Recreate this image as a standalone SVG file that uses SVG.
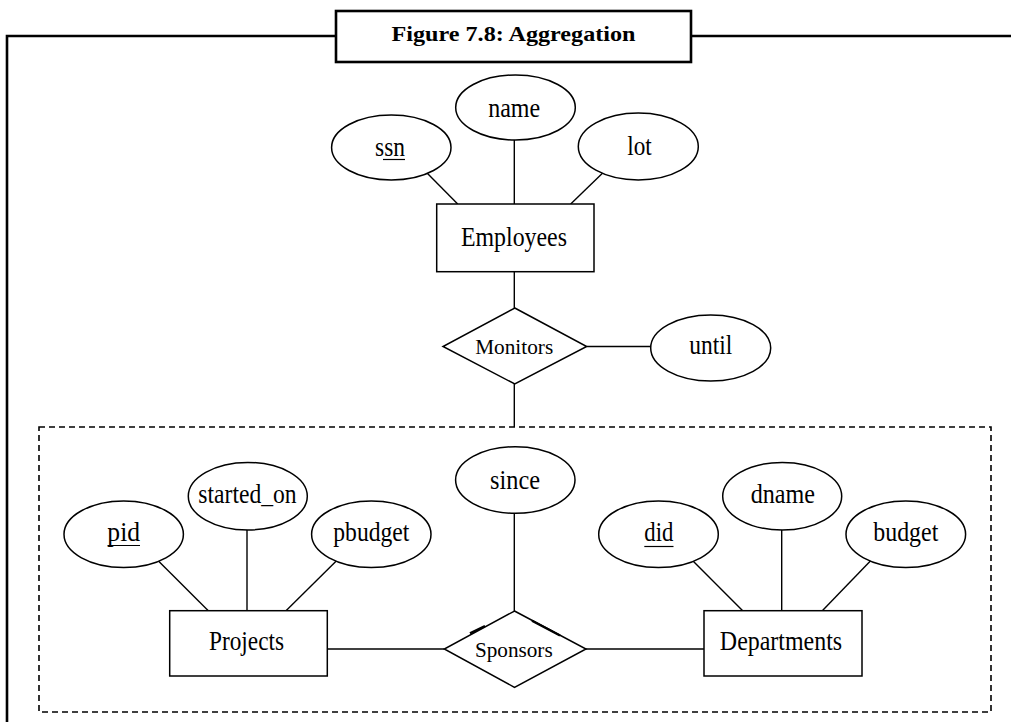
<svg xmlns="http://www.w3.org/2000/svg" width="1011" height="722" viewBox="0 0 1011 722">
<style>
  .frame{fill:none;stroke:#000;stroke-width:2.6}
  .shape{fill:#fff;stroke:#000;stroke-width:1.5}
  .line{fill:none;stroke:#000;stroke-width:1.4}
  .uline{fill:none;stroke:#000;stroke-width:1.2}
  .dash{fill:none;stroke:#000;stroke-width:1.6;stroke-dasharray:6 4}
  .lbl{font-family:"Liberation Serif","Times New Roman",serif;font-size:27px;fill:#000;text-anchor:middle}
  .rel{font-family:"Liberation Serif","Times New Roman",serif;font-size:21px;fill:#000;text-anchor:middle}
  .title{font-family:"Liberation Serif","Times New Roman",serif;font-size:21px;font-weight:bold;fill:#000;text-anchor:middle}
</style>
<rect width="1011" height="722" fill="#fff"/>

<g id="frame">
  <path class="frame" d="M7,722 V36 H336 M691,36 H1011"/>
</g>
<g id="title">
  <rect class="frame" x="336" y="11" width="355" height="51" fill="#fff"/>
  <text class="title" x="513.5" y="41" textLength="244" lengthAdjust="spacingAndGlyphs">Figure 7.8: Aggregation</text>
</g>

<g id="aggregation">
  <rect class="dash" x="39" y="427" width="952" height="285"/>
</g>

<g id="connectors">
  <line class="line" x1="423.3" y1="169.3" x2="457.7" y2="204"/>
  <line class="line" x1="514.3" y1="139" x2="514.3" y2="204"/>
  <line class="line" x1="604" y1="171.7" x2="570.7" y2="204"/>
  <line class="line" x1="514.3" y1="271.7" x2="514.3" y2="308"/>
  <line class="line" x1="586.7" y1="346.5" x2="650.7" y2="346.5"/>
  <line class="line" x1="514.3" y1="384" x2="514.3" y2="427"/>
  <line class="line" x1="156.7" y1="559.3" x2="208.3" y2="610.7"/>
  <line class="line" x1="247" y1="528.3" x2="247" y2="610.7"/>
  <line class="line" x1="338.3" y1="559" x2="286" y2="610.7"/>
  <line class="line" x1="325.3" y1="649" x2="444.3" y2="649"/>
  <line class="line" x1="514.3" y1="513.5" x2="514.3" y2="611"/>
  <line class="line" x1="586" y1="649" x2="704" y2="649"/>
  <line class="line" x1="691" y1="559" x2="742.7" y2="610.7"/>
  <line class="line" x1="781.7" y1="528.3" x2="781.7" y2="610.7"/>
  <line class="line" x1="872.3" y1="559" x2="822.3" y2="610.7"/>
</g>

<g id="ssn">
  <ellipse class="shape" cx="391.3" cy="147.5" rx="59.7" ry="32.5"/>
  <text class="lbl" x="390" y="155.5" textLength="30" lengthAdjust="spacingAndGlyphs">ssn</text>
  <line class="uline" x1="383" y1="159.5" x2="405" y2="159.5"/>
</g>
<g id="name">
  <ellipse class="shape" cx="515.5" cy="107.5" rx="59.8" ry="32.5"/>
  <text class="lbl" x="514.2" y="116.5" textLength="52" lengthAdjust="spacingAndGlyphs">name</text>
</g>
<g id="lot">
  <ellipse class="shape" cx="638.3" cy="146.5" rx="60" ry="33.5"/>
  <text class="lbl" x="639.5" y="155" textLength="24.5" lengthAdjust="spacingAndGlyphs">lot</text>
</g>
<g id="employees">
  <rect class="shape" x="436.7" y="204" width="157.3" height="67.7"/>
  <text class="lbl" x="514" y="246" textLength="106" lengthAdjust="spacingAndGlyphs">Employees</text>
</g>
<g id="monitors">
  <polygon class="shape" points="514.8,308 586.7,346.5 514.8,384 443,346.5"/>
  <text class="rel" x="514.2" y="354" textLength="78" lengthAdjust="spacingAndGlyphs">Monitors</text>
</g>
<g id="until">
  <ellipse class="shape" cx="710.7" cy="348" rx="60" ry="33"/>
  <text class="lbl" x="710.8" y="354" textLength="43" lengthAdjust="spacingAndGlyphs">until</text>
</g>

<g id="pid">
  <ellipse class="shape" cx="123.7" cy="534.3" rx="59.7" ry="33.3"/>
  <text class="lbl" x="123.7" y="540.7" textLength="32.7" lengthAdjust="spacingAndGlyphs">pid</text>
  <line class="uline" x1="107.5" y1="545.5" x2="140" y2="545.5"/>
</g>
<g id="started_on">
  <ellipse class="shape" cx="247.8" cy="496.2" rx="59.5" ry="33.8"/>
  <text class="lbl" x="247.5" y="502.7" textLength="98.3" lengthAdjust="spacingAndGlyphs">started_on</text>
</g>
<g id="pbudget">
  <ellipse class="shape" cx="371.3" cy="534.3" rx="59.7" ry="33.3"/>
  <text class="lbl" x="371.3" y="540.7" textLength="76" lengthAdjust="spacingAndGlyphs">pbudget</text>
</g>
<g id="projects">
  <rect class="shape" x="169.7" y="610.7" width="157.6" height="65.3"/>
  <text class="lbl" x="246.5" y="650" textLength="75" lengthAdjust="spacingAndGlyphs">Projects</text>
</g>
<g id="since">
  <ellipse class="shape" cx="515.3" cy="480" rx="59.7" ry="33.3"/>
  <text class="lbl" x="515" y="489.3" textLength="50" lengthAdjust="spacingAndGlyphs">since</text>
</g>
<g id="sponsors">
  <polygon class="shape" points="514.5,611 586,649 514.5,687.3 444.3,649"/>
  <path d="M470,633.3 L485,626 M532,620.8 L560,635.5" fill="none" stroke="#000" stroke-width="2.4"/>
  <text class="rel" x="513.8" y="656.7" textLength="77.7" lengthAdjust="spacingAndGlyphs">Sponsors</text>
</g>
<g id="did">
  <ellipse class="shape" cx="658.5" cy="534.3" rx="59.8" ry="33.3"/>
  <text class="lbl" x="658.8" y="540.7" textLength="29" lengthAdjust="spacingAndGlyphs">did</text>
  <line class="uline" x1="644.3" y1="546.5" x2="673.5" y2="546.5"/>
</g>
<g id="dname">
  <ellipse class="shape" cx="782.2" cy="496.2" rx="59.5" ry="33.8"/>
  <text class="lbl" x="782.8" y="502.7" textLength="64.3" lengthAdjust="spacingAndGlyphs">dname</text>
</g>
<g id="budget">
  <ellipse class="shape" cx="905.8" cy="534.3" rx="59.8" ry="33.3"/>
  <text class="lbl" x="905.8" y="540.7" textLength="65" lengthAdjust="spacingAndGlyphs">budget</text>
</g>
<g id="departments">
  <rect class="shape" x="704" y="610.7" width="158" height="65.3"/>
  <text class="lbl" x="781" y="650" textLength="122.3" lengthAdjust="spacingAndGlyphs">Departments</text>
</g>
</svg>
